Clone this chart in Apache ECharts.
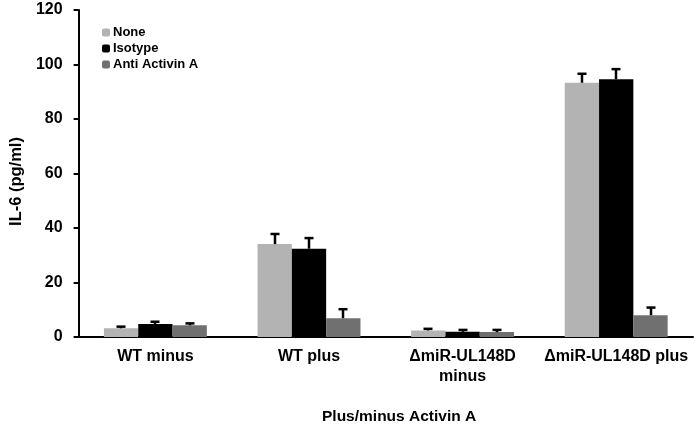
<!DOCTYPE html>
<html>
<head>
<meta charset="utf-8">
<script src="https://cdn.jsdelivr.net/npm/echarts@6/dist/echarts.min.js"></script>
<style>
  html, body { margin: 0; padding: 0; background: #fff; }
  #chart { width: 697px; height: 430px; }
</style>
</head>
<body>
<div id="chart"></div>
<script>
// values
var categories = ['WT minus', 'WT plus', 'ΔmiR-UL148D\nminus', 'ΔmiR-UL148D plus']
var seriesNames = ['None', 'Isotype', 'Anti Activin A']
var noneVals = [3.2, 34.1, 2.4, 93.3]
var noneErr = [0.6, 3.7, 0.6, 3.3]
var isoVals = [4.8, 32.4, 1.9, 94.6]
var isoErr = [0.8, 3.9, 0.7, 3.7]
var antiVals = [4.3, 6.9, 1.8, 8.0]
var antiErr = [0.7, 3.3, 0.8, 2.8]
var yTicks = [0, 20, 40, 60, 80, 100, 120]

var colors = ['#b3b3b3', '#000000', '#707070']
var catGap = 0.33
var font = 'Liberation Sans, Arial, sans-serif'

var myChart = echarts.init(document.getElementById('chart'))

// error bar (upper only, with cap) drawn over bar number idx of the group
function errSeries (idx, vals, errs) {
  var data = []
  for (var i = 0; i < vals.length; i++) {
    data.push([i, vals[i], vals[i] + errs[i]])
  }
  return {
    type: 'custom',
    z: 5,
    silent: true,
    data: data,
    encode: { x: 0, y: [1, 2] },
    renderItem: function (params, api) {
      var band = api.size([1, 0])[0]
      var bw = band * (1 - catGap) / 3
      var off = (idx - 1) * bw
      var lo = api.coord([api.value(0), api.value(1)])
      var hi = api.coord([api.value(0), api.value(2)])
      var x = Math.round(lo[0] + off)
      var style = { stroke: '#000', lineWidth: 2.5 }
      return {
        type: 'group',
        children: [
          { type: 'line', shape: { x1: x, y1: lo[1], x2: x, y2: hi[1] }, style: style },
          { type: 'line', shape: { x1: x - 4.5, y1: hi[1], x2: x + 4.5, y2: hi[1] }, style: style }
        ]
      }
    }
  }
}

var option = {
  animation: false,
  color: colors,
  textStyle: { fontFamily: font },
  grid: { left: 71, right: 4, top: 10, bottom: 93 },
  legend: {
    data: seriesNames,
    orient: 'vertical',
    left: 97,
    top: 21,
    itemWidth: 8,
    itemHeight: 8,
    itemGap: 3,
    textStyle: { fontSize: 13, fontWeight: 'bold', color: '#000', padding: [0, 0, 0, -2] }
  },
  xAxis: {
    type: 'category',
    data: categories,
    axisLine: { lineStyle: { color: '#000', width: 2 } },
    axisTick: { length: 5, lineStyle: { color: '#000', width: 2 } },
    axisLabel: { color: '#000', fontSize: 16, fontWeight: 'bold', margin: 10, lineHeight: 20, interval: 0 }
  },
  yAxis: {
    type: 'value',
    min: yTicks[0],
    max: yTicks[yTicks.length - 1],
    interval: 20,
    name: 'IL-6 (pg/ml)',
    nameLocation: 'middle',
    nameGap: 51,
    nameTextStyle: { color: '#000', fontSize: 16.5, fontWeight: 'bold', padding: [0, 0, 0, -16] },
    axisLine: { show: true, lineStyle: { color: '#000', width: 2 } },
    axisTick: { show: true, length: 5, lineStyle: { color: '#000', width: 2 } },
    axisLabel: { color: '#000', fontSize: 16, fontWeight: 'bold', margin: 16 },
    splitLine: { show: false }
  },
  graphic: [{
    type: 'text',
    left: 322,
    top: 409,
    style: { text: 'Plus/minus Activin A', fill: '#000', font: 'bold 15.5px ' + font }
  }],
  series: [
    { name: seriesNames[0], type: 'bar', data: noneVals, barGap: 0, barCategoryGap: '33%' },
    { name: seriesNames[1], type: 'bar', data: isoVals, barGap: 0, barCategoryGap: '33%' },
    { name: seriesNames[2], type: 'bar', data: antiVals, barGap: 0, barCategoryGap: '33%' },
    errSeries(0, noneVals, noneErr),
    errSeries(1, isoVals, isoErr),
    errSeries(2, antiVals, antiErr)
  ]
}

myChart.setOption(option)
</script>
</body>
</html>
